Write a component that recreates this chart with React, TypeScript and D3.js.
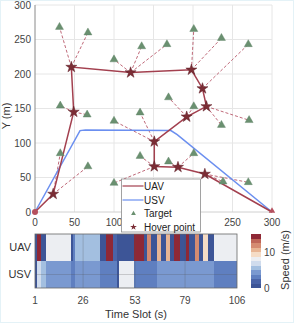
import React from 'react';
import * as d3 from 'd3';

const W = 294;
const H = 323;

// UAV route: start, hover points, end
const uavPath: [number, number][] = [
  [0, 0], [23, 26], [49, 145], [46, 210], [121, 202], [198, 206], [212, 179],
  [217, 153], [192, 138], [151, 102], [151, 66], [181, 65], [215, 55], [300, 0],
];
const hoverPoints = uavPath.slice(1, -1);

const usvPath: [number, number][] = [
  [0, 0], [57, 118], [64, 119], [172, 118], [180, 112], [300, 0],
];

// targets served from each hover point (same order as hoverPoints)
const targetGroups: [number, number][][] = [
  [[32, 85], [67, 66]],
  [[32, 154], [66, 141]],
  [[31, 268], [67, 260]],
  [[100, 221], [135, 240], [167, 243]],
  [[201, 265], [236, 252]],
  [[270, 243]],
  [[236, 126], [271, 133]],
  [[169, 166], [201, 153]],
  [[100, 132], [133, 144]],
  [[133, 81], [100, 42]],
  [[169, 73], [201, 85]],
  [[238, 44], [270, 43]],
];

const xTicks = [0, 50, 100, 150, 200, 250, 300];
// 150 and 200 sit under the legend box
const xTickLabels = [0, 50, 100, 250, 300];
const yTicks = [0, 50, 100, 150, 200, 250, 300];
const slotTicks = [1, 26, 53, 79, 106];
const rowNames = ['UAV', 'USV'];

const uavSpeed = [
  0.5, 14.5, 14.5, 0.5, 0.5, 0.5, 8, 8, 8, 8,
  8, 8, 8, 8, 8, 8, 8, 8, 8, 0.5,
  3, 5.5, 5.5, 5.5, 5.5, 5.5, 5.5, 5.5, 5.5, 5.5,
  5.5, 5.5, 5.5, 5.5, 0.5, 0.5, 0.5, 14.5, 14.5, 14.5,
  14.5, 2, 2, 0.5, 0.5, 0.5, 0.5, 0.5, 0.5, 0.5,
  0.5, 0.5, 14.5, 14.5, 14.5, 14.5, 14.5, 0.5, 0.5, 12,
  12, 0.5, 0.5, 0.5, 10.5, 10.5, 0.5, 0.5, 0.5, 10.5,
  10.5, 0.5, 0.5, 14.5, 14.5, 14.5, 0.5, 0.5, 0.5, 14.5,
  14.5, 0.5, 0.5, 0.5, 12, 12, 0.5, 0.5, 9.5, 9.5,
  9.5, 0.5, 0.5, 0.5, 8, 8, 8, 8, 8, 8,
  8, 8, 8, 8, 8, 8,
];

const usvSpeed = [
  0.5, 7, 7, 5.5, 5.5, 5.5, 4.5, 4.5, 4.5, 4.5,
  4.5, 4.5, 4.5, 4.5, 4.5, 4.5, 4.5, 4.5, 4.5, 3,
  3, 4.5, 4.5, 4.5, 4.5, 4.5, 4.5, 4.5, 4.5, 4.5,
  4.5, 4.5, 4.5, 4.5, 3, 3, 3, 3, 3, 3,
  3, 3, 3, 1, 8, 8, 8, 8, 8, 8,
  8, 8, 3, 3, 3, 3, 3, 3, 3, 3,
  3, 3, 3, 3, 4.5, 4.5, 4.5, 4.5, 4.5, 4.5,
  4.5, 4.5, 4.5, 4.5, 4.5, 4.5, 4.5, 4.5, 4.5, 4.5,
  4.5, 4.5, 4.5, 4.5, 4.5, 4.5, 4.5, 4.5, 4.5, 4.5,
  4.5, 4.5, 4.5, 4.5, 3, 3, 3, 3, 3, 3,
  3, 3, 3, 3, 3, 3,
];

const cmap = [
  '#3d5597', '#4a64a8', '#5f7fc0', '#7a99d0', '#a3bfe0', '#d0dced',
  '#eceef2', '#f5dcc6', '#e8b594', '#d58b71', '#bf6658', '#8f2836',
];

const FONT = '"Liberation Sans", Arial, sans-serif';
const UAV_C = '#a3404f';
const USV_C = '#6b8ff0';
const STAR_C = '#7b2d35';
const TGT_C = '#6a9070';

const App = () => {
  const x = d3.scaleLinear().domain([0, 300]).range([35, 272]);
  const y = d3.scaleLinear().domain([0, 300]).range([212, 5]);

  const line = d3.line<[number, number]>().x(d => x(d[0])).y(d => y(d[1]));
  const star = d3.symbol(d3.symbolStar, 38)()!;
  const tri = d3.symbol(d3.symbolTriangle, 28)()!;
  const starSmall = d3.symbol(d3.symbolStar, 14)()!;
  const triSmall = d3.symbol(d3.symbolTriangle, 10)()!;

  // heatmap
  const hx0 = 35, hx1 = 237, hy0 = 234, hy1 = 288;
  const nSlots = uavSpeed.length;
  const cellX = d3.scaleBand<number>().domain(d3.range(nSlots)).range([hx0, hx1]);
  const rowY = d3.scaleBand<string>().domain(rowNames).range([hy0, hy1]);
  const slotX = d3.scaleLinear().domain([1, 106]).range([hx0, hx1]);
  const color = d3.scaleQuantize<string>().domain([0, 15]).range(cmap);
  const rows = [uavSpeed, usvSpeed];

  // colorbar
  const cbX = 251, cbW = 10;
  const cbY = d3.scaleLinear().domain([0, 15]).range([288, 234]);
  const cbSteps = d3.range(cmap.length);

  const lg = { x: 121.5, y: 179, w: 79, h: 53 };
  const lgRows = [186, 200, 213.5, 227];

  return (
    <div style={{ position: 'absolute', left: 0, top: 0 }}>
      <svg width={W} height={H} style={{ display: 'block', fontFamily: FONT }}>
        <rect x={0.5} y={0.5} width={W - 1} height={H - 1} fill="#fff" stroke="#e4f2f7" />

        {/* grid */}
        {xTicks.slice(1).map(t => (
          <line key={'gx' + t} x1={x(t)} x2={x(t)} y1={y(300)} y2={y(0)} stroke="#e6e6e6" strokeWidth={1} />
        ))}
        {yTicks.slice(1).map(t => (
          <line key={'gy' + t} x1={x(0)} x2={x(300)} y1={y(t)} y2={y(t)} stroke="#e6e6e6" strokeWidth={1} />
        ))}
        <line x1={x(0)} x2={x(0)} y1={y(300)} y2={y(0)} stroke="#8a8a8a" strokeWidth={1} />
        <line x1={x(0)} x2={x(300)} y1={y(0)} y2={y(0)} stroke="#d0d0d0" strokeWidth={1} />

        {/* axis labels */}
        {yTicks.map(t => (
          <text key={'yt' + t} x={31} y={y(t)} dy="0.35em" textAnchor="end" fontSize={10} fill="#444">{t}</text>
        ))}
        {xTickLabels.map(t => (
          <text key={'xt' + t} x={x(t)} y={226} textAnchor="middle" fontSize={10} fill="#444">{t}</text>
        ))}
        <text transform={`translate(10,116) rotate(-90)`} textAnchor="middle" fontSize={11} fill="#333">Y (m)</text>

        {/* dashed assignment lines */}
        {targetGroups.map((g, i) => g.map((t, j) => (
          <line key={`d${i}-${j}`} x1={x(hoverPoints[i][0])} y1={y(hoverPoints[i][1])} x2={x(t[0])} y2={y(t[1])}
            stroke="#b8586a" strokeWidth={0.9} strokeDasharray="3,2" />
        )))}

        <path d={line(usvPath)!} fill="none" stroke={USV_C} strokeWidth={1.5} />
        <path d={line(uavPath)!} fill="none" stroke={UAV_C} strokeWidth={1.5} />

        {targetGroups.flat().map((t, i) => (
          <path key={'t' + i} d={tri} transform={`translate(${x(t[0])},${y(t[1])})`} fill={TGT_C} stroke="#5d8064" strokeWidth={0.4} />
        ))}
        {hoverPoints.map((p, i) => (
          <path key={'s' + i} d={star} transform={`translate(${x(p[0])},${y(p[1])})`} fill={STAR_C} stroke="#5e1f27" strokeWidth={0.5} />
        ))}
        <circle cx={x(0)} cy={y(0)} r={3} fill="#b5505e" />
        <path d={d3.symbol(d3.symbolTriangle, 18)()!} transform={`translate(${x(300)},${y(0) - 1})`} fill="#b5505e" />

        {/* legend */}
        <rect x={lg.x} y={lg.y} width={lg.w} height={lg.h} fill="#fff" stroke="#8c8c8c" strokeWidth={0.8} />
        <line x1={lg.x + 1} x2={lg.x + 22} y1={lgRows[0]} y2={lgRows[0]} stroke={UAV_C} strokeWidth={1.2} />
        <line x1={lg.x + 1} x2={lg.x + 22} y1={lgRows[1]} y2={lgRows[1]} stroke={USV_C} strokeWidth={1.2} />
        <path d={triSmall} transform={`translate(${lg.x + 12},${lgRows[2]})`} fill={TGT_C} />
        <path d={starSmall} transform={`translate(${lg.x + 12},${lgRows[3]})`} fill={STAR_C} />
        {['UAV', 'USV', 'Target', 'Hover point'].map((s, i) => (
          <text key={'lg' + s} x={lg.x + 22.5} y={lgRows[i]} dy="0.35em" fontSize={10} fill="#222">{s}</text>
        ))}

        {/* heatmap */}
        {rows.map((r, ri) => r.map((v, i) => (
          <rect key={`h${ri}-${i}`} x={cellX(i)!} y={rowY(rowNames[ri])!} width={cellX.bandwidth() + 0.3}
            height={rowY.bandwidth()} fill={color(v)} shapeRendering="crispEdges" />
        )))}
        {slotTicks.slice(1, -1).map(t => (
          <line key={'hg' + t} x1={slotX(t)} x2={slotX(t)} y1={hy0} y2={hy1} stroke="#555" strokeOpacity={0.25} />
        ))}
        <line x1={hx0} x2={hx1} y1={rowY('USV')! + rowY.bandwidth() / 2} y2={rowY('USV')! + rowY.bandwidth() / 2}
          stroke="#555" strokeOpacity={0.25} />
        <rect x={hx0} y={hy0} width={hx1 - hx0} height={hy1 - hy0} fill="none" stroke="#666" strokeWidth={0.8} />
        {rowNames.map(n => (
          <text key={'rn' + n} x={31} y={rowY(n)! + rowY.bandwidth() / 2} dy="0.35em" textAnchor="end" fontSize={11} fill="#333">{n}</text>
        ))}
        {slotTicks.map(t => (
          <text key={'st' + t} x={slotX(t)} y={304} textAnchor="middle" fontSize={10} fill="#444">{t}</text>
        ))}
        <text x={(hx0 + hx1) / 2} y={318} textAnchor="middle" fontSize={11} fill="#333">Time Slot (s)</text>

        {/* colorbar */}
        {cbSteps.map(i => (
          <rect key={'cb' + i} x={cbX} y={cbY((i + 1) * 1.25)} width={cbW} height={cbY(0) - cbY(1.25) + 0.3}
            fill={cmap[i]} shapeRendering="crispEdges" />
        ))}
        {[0, 10].map(t => (
          <text key={'cbt' + t} x={cbX + cbW + 3} y={cbY(t)} dy="0.35em" fontSize={10} fill="#444">{t}</text>
        ))}
        <text transform={`translate(289,260) rotate(-90)`} textAnchor="middle" fontSize={11} fill="#333">Speed (m/s)</text>
      </svg>
    </div>
  );
};

export default App;
